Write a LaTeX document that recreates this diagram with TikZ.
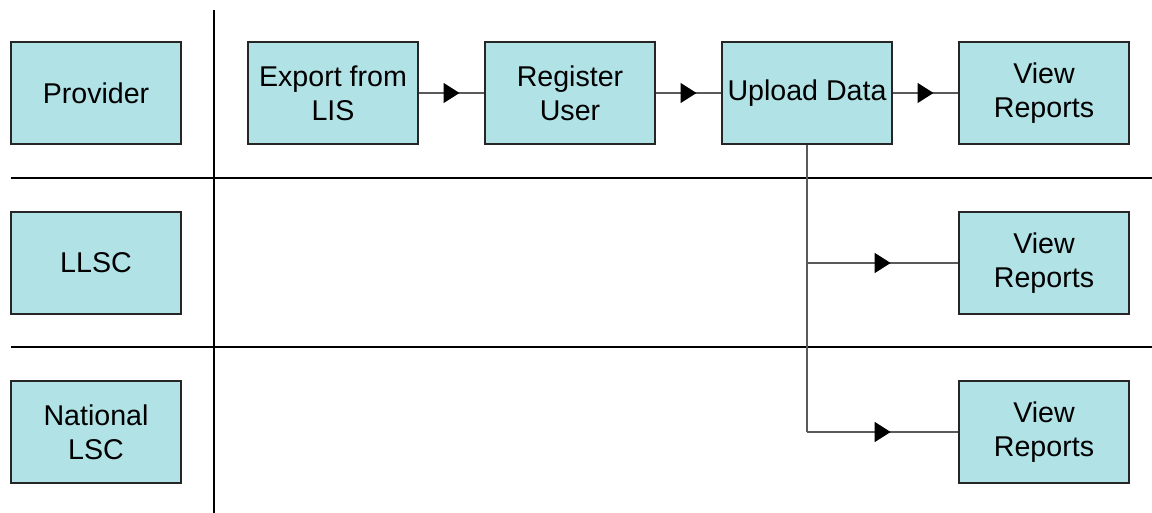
\documentclass[tikz,border=0pt]{standalone}
\usepackage{fontspec}
\setmainfont{Liberation Sans}
\usetikzlibrary{arrows.meta,decorations.markings}
\definecolor{boxfill}{RGB}{176,226,230}
\definecolor{linkgrey}{RGB}{90,90,90}
\tikzset{
  lanebox/.style={draw=black!85, line width=1.4pt, fill=boxfill,
    minimum width=170pt, minimum height=102pt, inner sep=0pt,
    align=center, font=\fontsize{28.6}{34}\selectfont},
  laneline/.style={draw=black, line width=1.4pt},
  link/.style={draw=linkgrey, line width=1.4pt},
  midarrow/.style={link, postaction={decorate},
    decoration={markings, mark=at position 0.5 with
      {\arrow[xshift=8pt, black]{Triangle[length=16pt, width=20pt]}}}}
}
\begin{document}
\begin{tikzpicture}[x=1pt, y=-1pt]
  \useasboundingbox (0,0) rectangle (1152,513);
  % swimlane separators
  \draw[laneline] (214,10) -- (214,513);
  \draw[laneline] (11,178) -- (1152,178);
  \draw[laneline] (11,347) -- (1152,347);
  % lane titles
  \node[lanebox] (prov) at (96,93) {Provider};
  \node[lanebox] (llsc) at (96,263) {LLSC};
  \node[lanebox] (nlsc) at (96,432) {National\\LSC};
  % provider steps
  \node[lanebox] (exp) at (333,93) {Export from\\LIS};
  \node[lanebox] (reg) at (570,93) {Register\\User};
  \node[lanebox] (up) at (807,93) {Upload Data};
  \node[lanebox] (vr1) at (1044,93) {View\\Reports};
  \node[lanebox] (vr2) at (1044,263) {View\\Reports};
  \node[lanebox] (vr3) at (1044,432) {View\\Reports};
  % connectors
  \path[midarrow] (exp.east) -- (reg.west);
  \path[midarrow] (reg.east) -- (up.west);
  \path[midarrow] (up.east) -- (vr1.west);
  \coordinate (j2) at (up.south |- vr2.west);
  \coordinate (j3) at (up.south |- vr3.west);
  \draw[link] (up.south) -- (j3);
  \path[midarrow] (j2) -- (vr2.west);
  \path[midarrow] (j3) -- (vr3.west);
\end{tikzpicture}
\end{document}
